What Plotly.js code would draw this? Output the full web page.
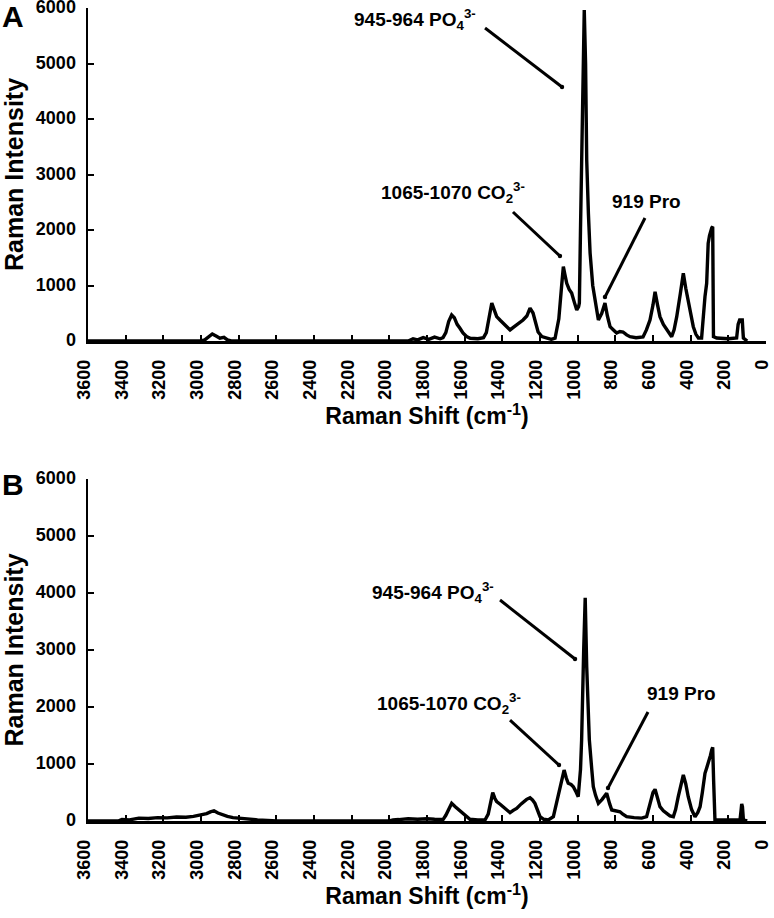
<!DOCTYPE html>
<html><head><meta charset="utf-8">
<script src="https://cdn.plot.ly/plotly-3.0.1.min.js"></script>
<style>html,body{margin:0;padding:0;background:#fff}#c{width:774px;height:918px}</style>
</head><body><div id="c"></div>
<script>
// Panel A spectrum
const shiftA = [3600,3000,2980,2960,2940,2920,2900,2878,2860,2840,
 1900,1874,1850,1820,1790,1760,1730,1715,1700,1685,
 1669,1655,1640,1625,1609,1590,1570,1530,1500,1485,
 1470,1456,1445,1430,1410,1396,1375,1359,1340,1324,
 1305,1290,1270,1253,1237,1220,1210,1190,1163,1140,
 1120,1100,1085,1076,1068,1058,1045,1032,1018,1005,
 995,991,985,979,972,965,958,952,943,934,
 920,908,898,890,872,855,842,828,810,793,
 776,759,740,722,690,653,635,616,600,589,
 576,563,545,527,510,501,488,474,455,439,
 426,413,400,386,372,359,342,337,333,324,
 315,307,300,294,288,283,281,279,262,200,
 156,148,140,126,122,120,100];
const intensityA = [0,0,20,70,126,90,50,67,20,0,
 0,40,20,60,30,70,40,60,150,350,
 468,420,300,230,144,80,50,40,60,150,
 450,685,580,440,370,324,260,200,250,288,
 330,378,450,594,504,300,162,80,54,30,
 50,400,1000,1339,1200,1040,930,865,700,558,
 620,684,2000,3321,5000,5965,5000,3262,2300,1585,
 1000,739,550,378,500,684,450,258,200,144,
 170,162,110,78,60,72,200,378,650,888,
 650,438,300,198,120,78,200,438,850,1220,
 950,739,480,258,120,54,54,300,504,800,
 1040,1760,1900,2000,2040,2060,1000,78,54,40,
 54,300,378,378,150,54,0];

// Panel B spectrum
const shiftB = [3600,3440,3420,3380,3330,3280,3230,3180,3130,3080,
 3040,3010,2993,2970,2950,2931,2910,2887,2860,2830,
 2798,2760,2700,2621,2600,2000,1980,1950,1900,1850,
 1800,1760,1715,1700,1685,1669,1650,1630,1607,1590,
 1572,1530,1492,1475,1466,1451,1440,1430,1410,1395,
 1375,1359,1340,1324,1300,1271,1253,1240,1227,1210,
 1200,1180,1156,1129,1110,1085,1072,1060,1050,1035,
 1023,1010,997,985,979,968,960,952,945,938,
 925,917,905,890,870,846,830,819,800,775,
 760,740,700,660,634,615,600,589,575,563,
 545,527,510,492,480,466,452,439,426,413,
 395,377,362,350,338,324,315,306,295,288,
 283,278,271,200,138,132,129,125,120,100];
const intensityB = [0,0,25,20,50,45,60,55,70,65,
 80,95,105,130,160,180,140,105,80,60,
 47,30,20,5,0,0,20,25,40,30,
 40,30,25,100,220,310,250,190,135,70,
 30,20,18,120,250,497,400,339,290,251,
 190,146,190,222,300,380,409,370,310,160,
 75,30,18,75,350,719,894,750,661,640,
 602,520,426,900,1421,3000,3917,2706,2000,1421,
 900,602,450,310,380,486,300,193,180,163,
 120,75,60,50,75,300,500,556,400,251,
 180,135,90,75,200,426,650,807,650,426,
 200,75,150,251,500,837,930,1012,1150,1250,
 1293,700,18,20,18,200,298,250,18,0];

const xTicks = [3600,3400,3200,3000,2800,2600,2400,2200,2000,1800,1600,1400,1200,1000,800,600,400,200,0];
const yTicks = [0,1000,2000,3000,4000,5000,6000];
const panelLabels = ['A','B'];
const xTitle = 'Raman Shift (cm<sup>-1</sup>)';
const yTitle = 'Raman Intensity';
const bandLabels = ['945-964 PO<sub>4</sub><sup>3-</sup>', '1065-1070 CO<sub>2</sub><sup>3-</sup>', '919 Pro'];
// label anchor points (shift, intensity) per panel: [PO4, CO2, Pro]
const labelPosA = [[1530,5784],[1269,2667],[828,2505]];
const labelPosB = [[1435,4017],[1290,2070],[642,2245]];
// pointer tips (shift, intensity) and pixel offsets of the pointer start
const arrowTipA = [[1083,4577],[1094,1532],[855,793]];
const arrowTipB = [[1014,2841],[1099,982],[839,579]];
const arrowOffA = [[-77,59],[-47,44],[40,79]];
const arrowOffB = [[-75,59],[-49,45],[40,76]];

const F = 'Liberation Sans, Arial, sans-serif';
const lineStyle = {color:'#000', width:3.4};

const traces = [
  {x: shiftA, y: intensityA, type:'scatter', mode:'lines', line: lineStyle, xaxis:'x', yaxis:'y', hoverinfo:'skip'},
  {x: shiftB, y: intensityB, type:'scatter', mode:'lines', line: lineStyle, xaxis:'x2', yaxis:'y2', hoverinfo:'skip'}
];

function xax(anchor){
  return {
    anchor: anchor, domain:[0,1], range:[3600,0], autorange:false,
    tickmode:'array', tickvals: xTicks, ticktext: xTicks.map(String),
    tickangle:-90, ticks:'inside', ticklen:6, tickwidth:2, tickcolor:'#000',
    showline:true, linewidth:2.5, linecolor:'#000', showgrid:false, zeroline:false,
    tickfont:{family:F, size:18, color:'#000', weight:'bold'},
    ticklabelstandoff: 9, ticklabeloverflow:'allow', ticklabelshift: 4,
    title:{text: xTitle, font:{family:F, size:23, color:'#000', weight:'bold'}, standoff: 0}
  };
}
function yax(anchor, dom){
  return {
    anchor: anchor, domain: dom, range:[0,6000], autorange:false,
    tickmode:'array', tickvals: yTicks, ticktext: yTicks.map(String),
    ticks:'inside', ticklen:6, tickwidth:2, tickcolor:'#000',
    showline:true, linewidth:2.5, linecolor:'#000', showgrid:false, zeroline:false,
    tickfont:{family:F, size:18, color:'#000', weight:'bold'},
    ticklabelstandoff: 6, ticklabeloverflow:'allow', ticklabelshift: -1,
    title:{text: yTitle, font:{family:F, size:25, color:'#000', weight:'bold'}, standoff: 6}
  };
}

const annotations = [];
const shapes = [];
function addPanel(xr, yr, pos, tips, offs){
  for(let i=0;i<3;i++){
    const rightAnchored = i < 2;
    annotations.push({xref:xr, yref:yr, x:pos[i][0], y:pos[i][1], text: bandLabels[i], showarrow:false,
      xanchor: rightAnchored ? 'right' : 'left', yanchor:'middle',
      font:{family:F, size:19, color:'#000', weight:'bold'}});
    shapes.push({type:'line', xref:xr, yref:yr, xsizemode:'pixel', ysizemode:'pixel',
      xanchor: tips[i][0], yanchor: tips[i][1], x0: offs[i][0], y0: offs[i][1], x1: 0, y1: 0,
      line:{color:'#000', width:3}});
    shapes.push({type:'circle', xref:xr, yref:yr, xsizemode:'pixel', ysizemode:'pixel',
      xanchor: tips[i][0], yanchor: tips[i][1], x0:-2.2, y0:-2.2, x1:2.2, y1:2.2,
      fillcolor:'#000', line:{width:0}});
  }
}
addPanel('x','y', labelPosA, arrowTipA, arrowOffA);
addPanel('x2','y2', labelPosB, arrowTipB, arrowOffB);
annotations.push({xref:'paper', yref:'paper', x:-0.1106, y:0.990, text: panelLabels[0], showarrow:false,
  xanchor:'center', yanchor:'middle', font:{family:F, size:30, color:'#000', weight:'bold'}});
annotations.push({xref:'paper', yref:'paper', x:-0.1106, y:0.4145, text: panelLabels[1], showarrow:false,
  xanchor:'center', yanchor:'middle', font:{family:F, size:30, color:'#000', weight:'bold'}});

const layout = {
  width:774, height:918,
  margin:{l:88, r:8, t:8, b:97},
  paper_bgcolor:'#fff', plot_bgcolor:'#fff',
  showlegend:false,
  xaxis: xax('y'), yaxis: yax('x', [0.5904, 1]),
  xaxis2: xax('y2'), yaxis2: yax('x2', [0, 0.4207]),
  annotations: annotations,
  shapes: shapes
};

Plotly.newPlot('c', traces, layout, {staticPlot:true});
</script>
</body></html>
